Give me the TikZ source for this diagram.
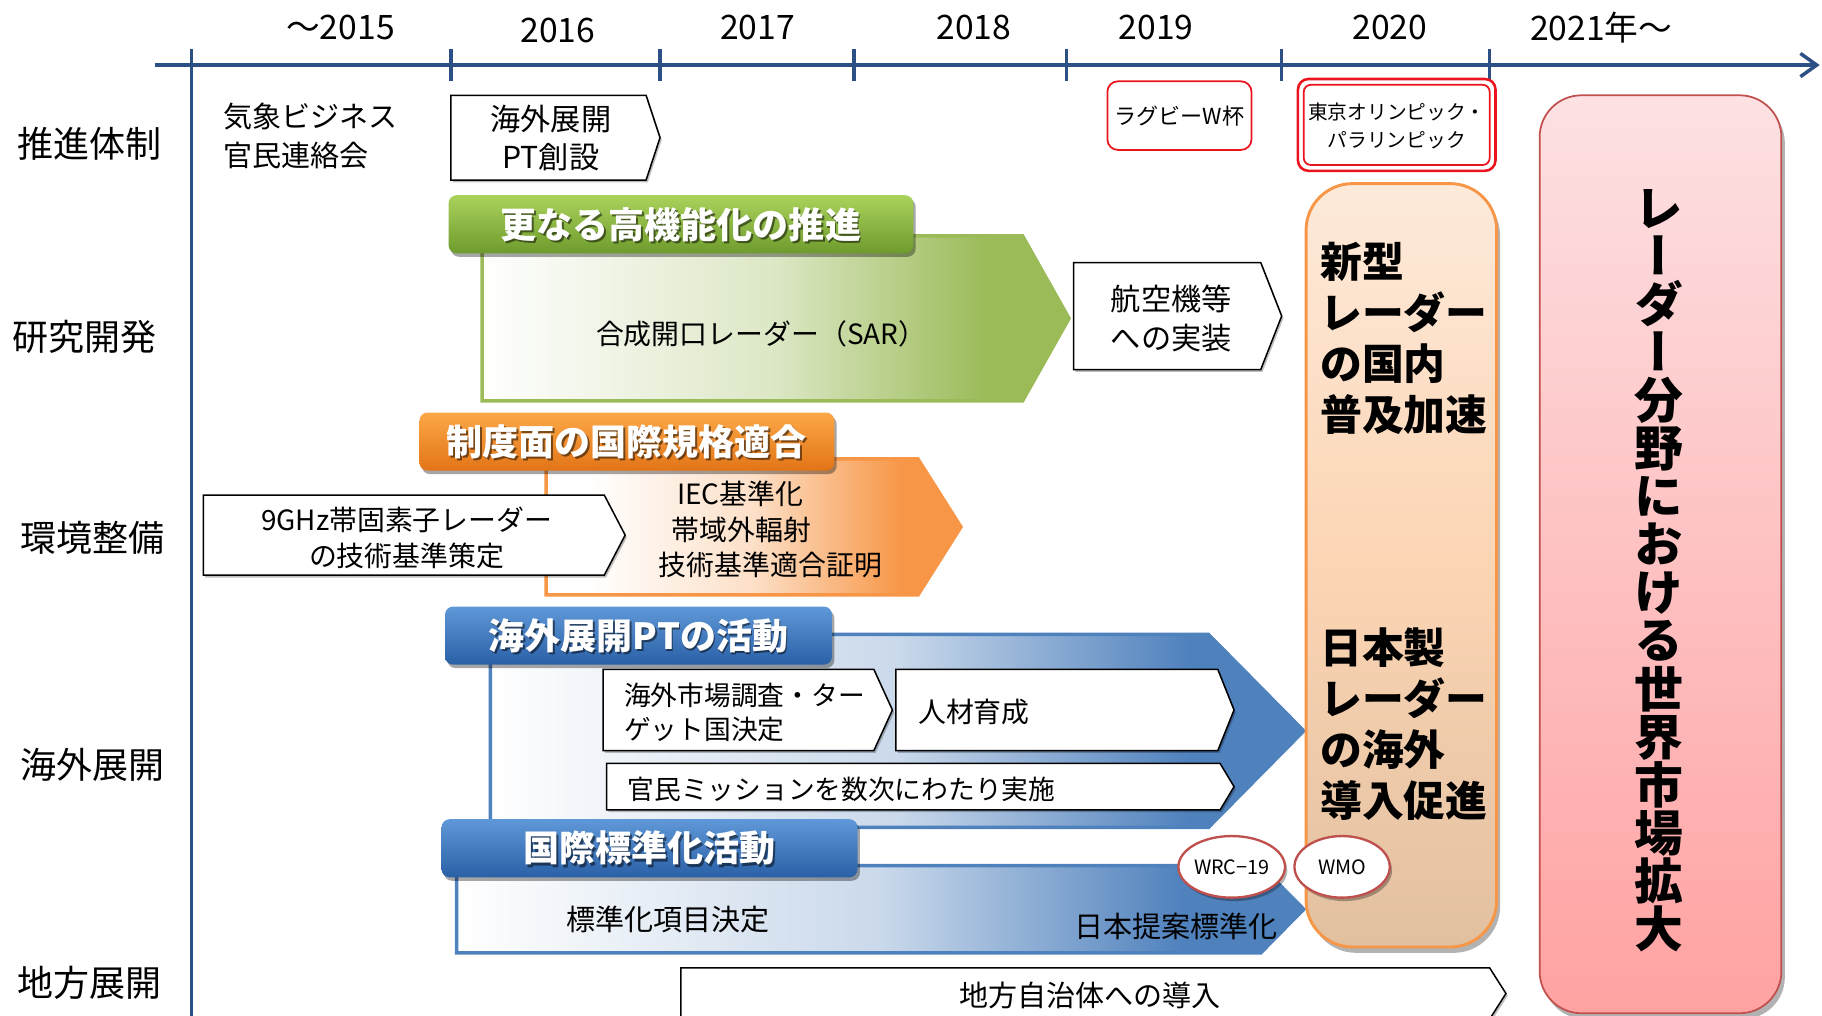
\documentclass[tikz,border=0pt]{standalone}
\usepackage{fontspec}
\setmainfont{Noto Sans CJK JP}
\newfontfamily\vtfont[RawFeature=+vert]{Noto Sans CJK JP}
\usepackage{graphicx}
\usetikzlibrary{arrows.meta,shadows,shapes.geometric}

\definecolor{axisblue}{RGB}{44,79,134}
\definecolor{gline}{RGB}{155,187,89}
\definecolor{oline}{RGB}{247,150,70}
\definecolor{bline}{RGB}{79,129,189}
\definecolor{gtop}{RGB}{170,210,92}
\definecolor{gbot}{RGB}{110,155,45}
\definecolor{otop}{RGB}{252,168,72}
\definecolor{obot}{RGB}{226,116,22}
\definecolor{btop}{RGB}{95,152,216}
\definecolor{bbot}{RGB}{42,96,166}
\definecolor{redline}{RGB}{235,20,30}
\definecolor{pinkline}{RGB}{192,80,77}
\definecolor{pinktop}{RGB}{253,225,227}
\definecolor{pinkbot}{RGB}{255,162,162}
\definecolor{peachtop}{RGB}{253,234,218}
\definecolor{peachmid}{RGB}{252,213,180}
\definecolor{peachbot}{RGB}{225,192,160}
\colorlet{glt}{gline!35!white}
\colorlet{olt}{oline!30!white}
\colorlet{blt}{bline!30!white}
\pgfdeclarehorizontalshading{gfade}{100bp}{color(0bp)=(white); color(25bp)=(white); color(50bp)=(glt); color(68bp)=(gline); color(100bp)=(gline)}
\pgfdeclarehorizontalshading{ofade}{100bp}{color(0bp)=(white); color(30bp)=(white); color(50bp)=(olt); color(68bp)=(oline); color(100bp)=(oline)}
\pgfdeclarehorizontalshading{bfade}{100bp}{color(0bp)=(white); color(25bp)=(white); color(50bp)=(blt); color(68bp)=(bline); color(100bp)=(bline)}

\newcommand{\fz}[2]{\fontsize{#1pt}{#2pt}\selectfont}
\newcommand{\chevbox}[6][]{\path[#1] (#2,#3) -- ({#4-#6},#3) -- (#4,{(#3+#5)/2}) -- ({#4-#6},#5) -- (#2,#5) -- cycle;}
\newcommand{\hdrbar}[8]{%
  \path[hdrbox,top color=#6,bottom color=#7] (#2,#3) rectangle (#4,#5);
  \node[hdrsh] at ({(#2+#4)/2+1.5},{(#3+#5)/2+2}) {#8};
  \node[hdrtxt] (#1) at ({(#2+#4)/2},{(#3+#5)/2}) {#8};}

\begin{document}
\begin{tikzpicture}[x=1pt,y=-1pt,
  axisln/.style={draw=axisblue,line width=3pt},
  wbox/.style={draw=black,fill=white,line width=1.3pt,drop shadow={opacity=.25,shadow xshift=1.5pt,shadow yshift=-2pt,fill=black}},
  txt/.style={inner sep=0pt,align=center,text=black},
  hdrbox/.style={rounded corners=7pt,drop shadow={opacity=.35,shadow xshift=2pt,shadow yshift=-3pt,fill=black}},
  hdrtxt/.style={inner sep=0pt,text=white,font=\bfseries\fz{31}{31}},
  hdrsh/.style={inner sep=0pt,text=black,opacity=.5,font=\bfseries\fz{31}{31}},
  bigarrow/.style={shade,line width=3pt},
  evt/.style={draw=redline,line width=1.5pt,fill=white,rounded corners=9pt},
  oval/.style={ellipse,draw=pinkline,line width=2pt,fill=white,inner sep=0pt,minimum width=80pt,minimum height=53pt,font=\fz{17}{17},drop shadow={opacity=.3,shadow xshift=2pt,shadow yshift=-3pt,fill=black}},
  bigshadow/.style={drop shadow={opacity=.3,shadow xshift=3pt,shadow yshift=-5pt,fill=black}}
]
\useasboundingbox (0,0) rectangle (1568,874);
\fill[white] (0,0) rectangle (1568,874);

% axes
\draw[axisln,-{Straight Barb[length=14pt,width=20pt]}] (133,56) -- (1566,56);
\draw[axisln] (165,42) -- (165,880);
\foreach \tx in {388,568,735,918,1103,1282}{\draw[axisln] (\tx,42) -- (\tx,70);}

% years
\node[txt,font=\fz{29}{29}] (y15) at (293,24) {～2015};
\node[txt,font=\fz{29}{29}] (y16) at (480,26) {2016};
\node[txt,font=\fz{29}{29}] (y17) at (652,24) {2017};
\node[txt,font=\fz{29}{29}] (y18) at (838,24) {2018};
\node[txt,font=\fz{29}{29}] (y19) at (995,24) {2019};
\node[txt,font=\fz{29}{29}] (y20) at (1196,24) {2020};
\node[txt,font=\fz{29}{29}] (y21) at (1378,24) {2021年～};

% row labels
\node[txt,font=\fz{31}{31}] (r1) at (77,124) {推進体制};
\node[txt,font=\fz{31}{31}] (r2) at (73,290) {研究開発};
\node[txt,font=\fz{31}{31}] (r3) at (80,463) {環境整備};
\node[txt,font=\fz{31}{31}] (r4) at (80,658) {海外展開};
\node[txt,font=\fz{31}{31}] (r5) at (77,846) {地方展開};

% row 1
\node[txt,anchor=west,align=left,font=\fz{25}{33}] (kisho) at (192,117) {気象ビジネス\\官民連絡会};
\chevbox[wbox]{388}{82}{568}{155}{12}
\node[txt,font=\fz{26}{33}] (ptso) at (474,119) {海外展開\\PT創設};
\path[evt] (953,70) rectangle (1077,129);
\node[txt,font=\fz{19}{19}] (rugby) at (1015,100) {ラグビーW杯};
\path[evt,line width=2.2pt] (1117,68) rectangle (1287,147);
\path[evt,rounded corners=6pt] (1122,73) rectangle (1282,142);
\node[txt,font=\fz{17}{24}] (tokyo) at (1202,108) {東京オリンピック・\\パラリンピック};

% row 2
\chevbox[bigarrow,shading=gfade,draw=gline]{415}{203}{920}{345}{40}
\hdrbar{hg}{386}{168}{786}{218}{gtop}{gbot}{更なる高機能化の推進}
\node[txt,font=\fz{24}{24}] (sar) at (655,287) {合成開口レーダー（SAR）};
\chevbox[wbox]{924}{226}{1103}{318}{18}
\node[txt,font=\fz{26}{33}] (koku) at (1008,274) {航空機等\\への実装};

% row 3
\chevbox[bigarrow,shading=ofade,draw=oline]{470}{395}{827}{512}{37}
\chevbox[wbox]{175}{426}{538}{495}{18}
\hdrbar{ho}{361}{355}{718}{405}{otop}{obot}{制度面の国際規格適合}
\node[txt,font=\fz{24}{31}] (ghz) at (350,463) {9GHz帯固素子レーダー\\の技術基準策定};
\node[txt,font=\fz{24}{24}] (iec) at (637,425) {IEC基準化};
\node[txt,font=\fz{24}{24}] (oob) at (638,456) {帯域外輻射};
\node[txt,font=\fz{24}{24}] (giteki) at (663,486) {技術基準適合証明};

% row 4
\chevbox[bigarrow,shading=bfade,draw=bline]{422}{546}{1122}{712}{82}
\hdrbar{hb1}{383}{522}{716}{572}{btop}{bbot}{海外展開PTの活動}
\chevbox[wbox]{519}{576}{768}{646}{16}
\node[txt,anchor=west,align=left,font=\fz{23}{30}] (market) at (537,613) {海外市場調査・ター\\ゲット国決定};
\chevbox[wbox]{771}{576}{1062}{646}{14}
\node[txt,anchor=west,font=\fz{24}{24}] (jinzai) at (790,613) {人材育成};
\chevbox[wbox]{522}{657}{1062}{697}{12}
\node[txt,anchor=west,font=\fz{23}{23}] (mission) at (540,679) {官民ミッションを数次にわたり実施};

% row 5
\chevbox[bigarrow,shading=bfade,draw=bline]{393}{745}{1122}{820}{37}
\hdrbar{hb2}{380}{705}{738}{755}{btop}{bbot}{国際標準化活動}
\node[txt,font=\fz{25}{25}] (hyoujun) at (575,791) {標準化項目決定};
\node[txt,font=\fz{25}{25}] (nihon) at (1012,797) {日本提案標準化};

% orange column
\path[draw=oline,line width=2.5pt,rounded corners=40pt,top color=peachtop,bottom color=peachbot,middle color=peachmid,bigshadow] (1124,158) rectangle (1288,815);
\node[txt,anchor=west,align=left,font=\bfseries\fz{36}{44}] (kokunai) at (1136,291) {新型\\レーダー\\の国内\\普及加速};
\node[txt,anchor=west,align=left,font=\bfseries\fz{36}{44}] (kaigai) at (1136,623) {日本製\\レーダー\\の海外\\導入促進};

% ovals
\node[oval] (wrc) at (1060,746) {WRC−19};
\node[oval,minimum width=82pt] (wmo) at (1155,746) {WMO};

% row 6
\chevbox[wbox]{586}{833}{1296}{877}{14}
\node[txt,font=\fz{25}{25}] (chiho) at (938,857) {地方自治体への導入};

% pink column
\path[draw=pinkline,line width=1.5pt,rounded corners=36pt,top color=pinktop,bottom color=pinkbot,bigshadow] (1325,82) rectangle (1533,872);
\node[txt,font={\vtfont\bfseries\fz{42}{41.4}\lineskiplimit=-100pt}] (world) at (1428,491) {レ\\ー\\ダ\\ー\\分\\野\\に\\お\\け\\る\\世\\界\\市\\場\\拡\\大};
\end{tikzpicture}
\end{document}
